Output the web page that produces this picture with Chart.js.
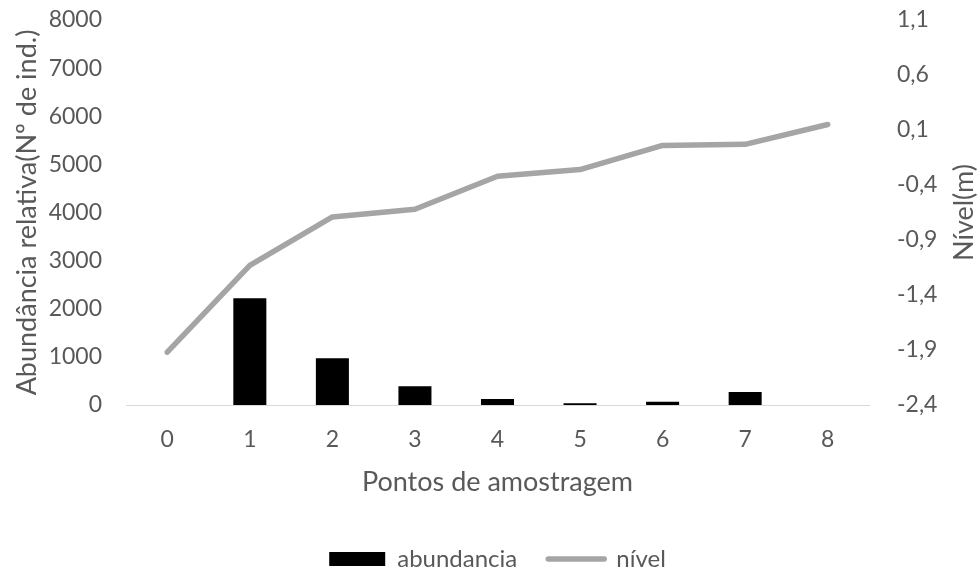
<!DOCTYPE html>
<html>
<head>
<meta charset="utf-8">
<script src="https://cdn.jsdelivr.net/npm/chart.js@4"></script>
<style>
  html, body { margin: 0; padding: 0; background: #ffffff; overflow: hidden; }
  #wrap { width: 979px; height: 571px; position: relative; }
</style>
</head>
<body>
<div id="wrap"><canvas id="c"></canvas></div>
<script>
const categories = ['0', '1', '2', '3', '4', '5', '6', '7', '8'];
const abundancia = [0, 2220, 970, 390, 125, 35, 70, 270, 0];
const nivel = [-1.92, -1.13, -0.69, -0.62, -0.32, -0.26, -0.04, -0.03, 0.15];
const abundTicks = [0, 1000, 2000, 3000, 4000, 5000, 6000, 7000, 8000];
const nivelTicks = [-2.4, -1.9, -1.4, -0.9, -0.4, 0.1, 0.6, 1.1];

const FONT = 'Lato';
const TXT = '#595959';
const TICK = 23;
const TITLE = 27;
Chart.defaults.font.family = FONT;
Chart.defaults.color = TXT;

const rightTitle = {
  id: 'rightTitle',
  afterDraw(chart) {
    const ctx = chart.ctx;
    const ca = chart.chartArea;
    ctx.save();
    ctx.font = TITLE + 'px ' + FONT;
    ctx.fillStyle = TXT;
    ctx.textAlign = 'center';
    ctx.textBaseline = 'middle';
    ctx.translate(964, (ca.top + ca.bottom) / 2);
    ctx.rotate(-Math.PI / 2);
    ctx.fillText('Nível(m)', 0, 0);
    ctx.restore();
  }
};

const chart = new Chart(document.getElementById('c'), {
  type: 'bar',
  data: {
    labels: categories,
    datasets: [
      {
        type: 'bar',
        label: 'abundancia',
        data: abundancia,
        backgroundColor: '#000000',
        borderWidth: 0,
        yAxisID: 'y',
        categoryPercentage: 0.4,
        barPercentage: 1.0
      },
      {
        type: 'line',
        label: 'nível',
        data: nivel,
        borderColor: '#A5A5A5',
        backgroundColor: '#A5A5A5',
        borderWidth: 5.5,
        borderCapStyle: 'round',
        borderJoinStyle: 'round',
        pointRadius: 0,
        pointHoverRadius: 0,
        tension: 0,
        fill: false,
        yAxisID: 'y1'
      }
    ]
  },
  options: {
    responsive: true,
    maintainAspectRatio: false,
    animation: false,
    layout: { padding: { top: 20, left: 0, right: 0, bottom: 0 } },
    plugins: {
      tooltip: { enabled: false },
      legend: {
        position: 'bottom',
        fullSize: false,
        labels: {
          usePointStyle: true,
          pointStyleWidth: 56,
          boxHeight: 14,
          padding: 31,
          color: TXT,
          font: { size: 24, family: FONT },
          generateLabels(chart) {
            const items = Chart.defaults.plugins.legend.labels.generateLabels(chart);
            items[0].pointStyle = 'rect';
            items[0].fillStyle = '#000000';
            items[0].lineWidth = 0;
            items[1].pointStyle = 'line';
            items[1].strokeStyle = '#A5A5A5';
            items[1].lineWidth = 5.5;
            items[1].lineCap = 'round';
            return items;
          }
        }
      }
    },
    scales: {
      x: {
        grid: { display: false, drawTicks: false },
        border: { display: true, color: '#D9D9D9', width: 1 },
        ticks: { color: TXT, font: { size: TICK }, padding: 21 },
        title: { display: true, text: 'Pontos de amostragem', color: TXT, font: { size: TITLE }, padding: { top: 0, bottom: 18 } },
        afterFit(scale) { scale.height = 111; }
      },
      y: {
        position: 'left',
        min: 0,
        max: 8000,
        grid: { display: false, drawTicks: false },
        border: { display: false },
        ticks: { color: TXT, font: { size: TICK }, padding: 24, callback: v => String(v) },
        afterBuildTicks(scale) { scale.ticks = abundTicks.map(v => ({ value: v })); },
        title: { display: true, text: 'Abundância relativa(Nº de ind.)', color: TXT, font: { size: TITLE }, padding: { top: 11, bottom: 0 } },
        afterFit(scale) { scale.width = 126; scale.paddingTop = 0; scale.paddingBottom = 0; }
      },
      y1: {
        position: 'right',
        min: -2.4,
        max: 1.1,
        grid: { display: false, drawTicks: false },
        border: { display: false },
        ticks: {
          color: TXT,
          font: { size: TICK },
          padding: 28,
          callback: v => v.toFixed(1).replace('.', ',')
        },
        afterBuildTicks(scale) { scale.ticks = nivelTicks.map(v => ({ value: v })); },
        afterFit(scale) { scale.width = 110; scale.paddingTop = 0; scale.paddingBottom = 0; }
      }
    }
  },
  plugins: [rightTitle]
});

const origFit = chart.legend.fit;
chart.legend.fit = function () { origFit.call(this); this.height = 55; };
chart.update();
</script>
</body>
</html>
